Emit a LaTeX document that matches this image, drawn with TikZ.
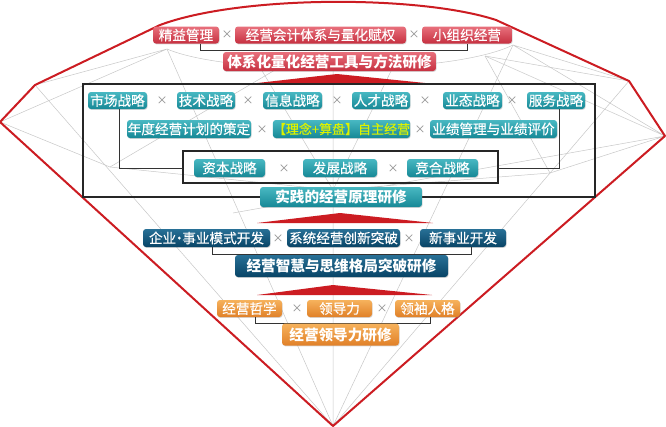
\documentclass[tikz,border=0pt]{standalone}
\usepackage{fontspec}
\setmainfont{Noto Sans CJK SC}
\newfontfamily\itemfont[FakeBold=0.35]{Noto Sans CJK SC}
\usetikzlibrary{shadows}
\definecolor{rtop}{RGB}{232,112,124}
\definecolor{rbot}{RGB}{198,48,64}
\definecolor{ttop}{RGB}{72,184,194}
\definecolor{tbot}{RGB}{22,136,150}
\definecolor{btop}{RGB}{40,112,150}
\definecolor{bbot}{RGB}{8,68,102}
\definecolor{otop}{RGB}{246,178,92}
\definecolor{obot}{RGB}{224,128,40}
\definecolor{gemred}{RGB}{204,28,34}
\definecolor{facet}{RGB}{200,200,200}
\definecolor{ylw}{RGB}{220,242,0}
\begin{document}
\begin{tikzpicture}[x=1pt,y=-1pt,
  base/.style={rounded corners=3pt, text=white, inner sep=0pt,
    font=\itemfont\fontsize{13.6}{13.6}\selectfont,
    drop shadow={opacity=0.3, shadow xshift=0.6pt, shadow yshift=-0.9pt}},
  head/.style={font=\fontsize{14.6}{14.6}\selectfont\bfseries},
  redbox/.style={base, top color=rtop, bottom color=rbot},
  tealbox/.style={base, top color=ttop, bottom color=tbot},
  bluebox/.style={base, top color=btop, bottom color=bbot},
  orgbox/.style={base, top color=otop, bottom color=obot},
  cross/.style={text=black!45, inner sep=0pt, font=\fontsize{11}{11}\selectfont},
  facetline/.style={draw=facet, line width=0.5pt},
  frame/.style={draw=black!85, line width=1.1pt},
  link/.style={draw=black!80, line width=1pt},
  wedge/.style={fill=gemred, draw=none}
]
\useasboundingbox (0,0) rectangle (666,426);
\fill[white] (0,0) rectangle (666,426);

% gem vertices
\coordinate (L) at (0,122);
\coordinate (TL) at (35,85);
\coordinate (T1) at (160,25);
\coordinate (T2) at (496,20);
\coordinate (TR) at (629,81);
\coordinate (R) at (665,136);
\coordinate (B) at (333,426);
\coordinate (A1) at (167,49);
\coordinate (A2) at (513,45);
\coordinate (NL) at (110,167);
\coordinate (NR) at (550,173);
\coordinate (C) at (333,190);
\coordinate (QL) at (233,213);
\coordinate (P1) at (261,69);
\coordinate (P2) at (333,70);
\coordinate (P3) at (392,69);
\coordinate (P4) at (485,56);
\coordinate (P5) at (275,70);

% facet lines
\path[facetline] (A1) .. controls (230,76) and (450,76) .. (A2);
\path[facetline] (TL) -- (A1) (L) -- (A1) (TR) -- (A2) (R) -- (A2) (R) -- (P4);
\path[facetline] (TL) -- (B) (TR) -- (B) (A1) -- (B) (A2) -- (B) (C) -- (B);
\path[facetline] (L) -- (NL) -- (C) -- (NR) -- (R) (R) -- (QL);
\path[facetline] (NL) -- (P5) (NR) -- (P4) (P4) -- (TR);
\path[facetline] (C) -- (P1) (C) -- (P2) (C) -- (P3);

% gem outline
\draw[gemred, line width=2pt, line join=round]
  (L) -- (TL) -- (T1) .. controls (240,-5) and (420,-5) .. (T2) -- (TR) -- (R) -- (B) -- cycle;

% wedges
\fill[wedge] (253,83.5) -- (337,74) -- (430,83.5) -- cycle;
\fill[wedge] (257,223) -- (340,213) -- (433,223) -- cycle;
\fill[wedge] (257,295) -- (333,285) -- (432,295) -- cycle;

% frames
\draw[frame] (83,84) rectangle (595,197);
\draw[frame] (183,151) rectangle (498,183);

% ---- top row ----
\node[redbox, minimum width=66, minimum height=17] (jy) at (186,35) {精益管理};
\node[cross] (x11) at (227,35) {×};
\node[redbox, minimum width=171, minimum height=17] (kj) at (320.5,35) {经营会计体系与量化赋权};
\node[cross] (x12) at (414,35) {×};
\node[redbox, minimum width=90, minimum height=17] (xz) at (467,35) {小组织经营};
\draw[link] (200,0 |- jy.south) -- (200,50) -| (467,0 |- xz.south);
\node[redbox, head, minimum width=213, minimum height=19] (h1) at (329.5,61.5) {体系化量化经营工具与方法研修};

% ---- teal rows ----
\node[tealbox, minimum width=59, minimum height=17] (sc) at (117.5,100.5) {市场战略};
\node[cross] at (162,101) {×};
\node[tealbox, minimum width=58, minimum height=17] (js) at (206,100.5) {技术战略};
\node[cross] at (248,101) {×};
\node[tealbox, minimum width=59, minimum height=17] (xx) at (292.5,100.5) {信息战略};
\node[cross] at (337,101) {×};
\node[tealbox, minimum width=58, minimum height=17] (rc) at (381,100.5) {人才战略};
\node[cross] at (425,101) {×};
\node[tealbox, minimum width=59, minimum height=17] (yt) at (472.5,100.5) {业态战略};
\node[cross] at (512,101) {×};
\node[tealbox, minimum width=58, minimum height=17] (fw) at (556,100.5) {服务战略};

\node[tealbox, minimum width=124, minimum height=18] (nd) at (189,129) {年度经营计划的策定};
\node[cross] at (262,129.5) {×};
\node[tealbox, minimum width=137, minimum height=18, text=ylw] (ln) at (341.5,129) {\fontsize{13}{13}\selectfont【理念+算盘】自主经营};
\node[cross] at (420,129.5) {×};
\node[tealbox, minimum width=127, minimum height=18] (yj) at (493.5,129) {业绩管理与业绩评价};

\coordinate (inL) at (183,168);
\coordinate (inR) at (498,168);
\draw[link] (119,0 |- sc.south) |- (inL);
\draw[link] (559,0 |- fw.south) |- (inR);

\node[tealbox, minimum width=71, minimum height=18] (zb) at (229.5,168) {资本战略};
\node[cross] at (284,168.5) {×};
\node[tealbox, minimum width=74, minimum height=18] (fz) at (340,168) {发展战略};
\node[cross] at (393,168.5) {×};
\node[tealbox, minimum width=71, minimum height=18] (jh) at (442.5,168) {竞合战略};

\node[tealbox, head, minimum width=162, minimum height=20] (h2) at (341,197) {实践的经营原理研修};

% ---- blue row ----
\node[bluebox, minimum width=127, minimum height=18] (qy) at (206.5,238) {企业\makebox[0.45em]{·}事业模式开发};
\node[cross] at (278,238.5) {×};
\node[bluebox, minimum width=113, minimum height=18] (xt) at (343.5,238) {系统经营创新突破};
\node[cross] at (409,238.5) {×};
\node[bluebox, minimum width=86, minimum height=18] (xs) at (463,238) {新事业开发};
\draw[link] (212,0 |- qy.south) -- (212,254) -| (471,0 |- xs.south);
\node[bluebox, head, minimum width=213, minimum height=22] (h3) at (341.5,266) {经营智慧与思维格局突破研修};

% ---- orange row ----
\node[orgbox, minimum width=65, minimum height=17] (zx) at (249.5,308.5) {经营哲学};
\node[cross] at (297,309) {×};
\node[orgbox, minimum width=65, minimum height=17] (ld) at (339.5,308.5) {领导力};
\node[cross] at (382,309) {×};
\node[orgbox, minimum width=65, minimum height=17] (lx) at (427.5,308.5) {领袖人格};
\draw[link] (255,0 |- zx.south) -- (255,323) -| (430,0 |- lx.south);
\node[orgbox, head, minimum width=117, minimum height=22] (h4) at (340.5,334.5) {经营领导力研修};
\end{tikzpicture}
\end{document}
